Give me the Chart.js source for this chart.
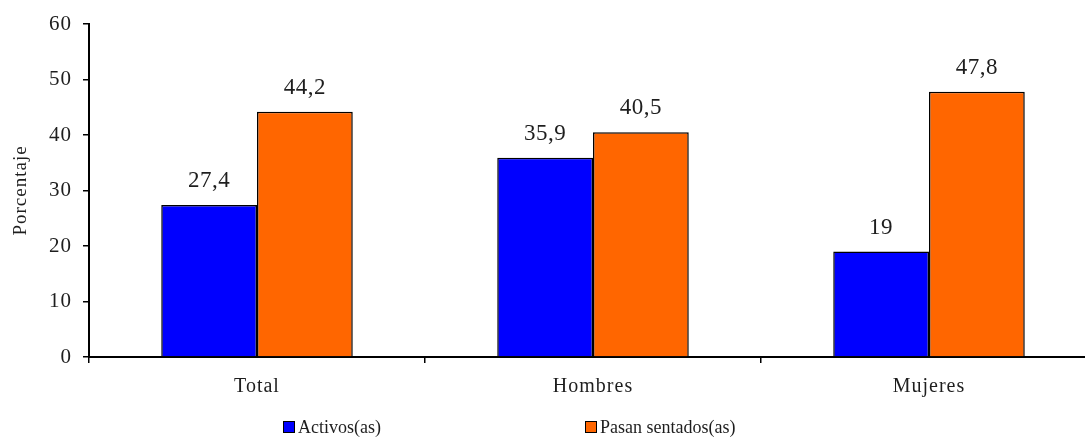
<!DOCTYPE html>
<html>
<head>
<meta charset="utf-8">
<script src="https://cdn.jsdelivr.net/npm/chart.js@4/dist/chart.umd.min.js"></script>
<style>
  html, body { margin: 0; padding: 0; background: #fff; overflow: hidden; }
  #wrap { width: 1100px; height: 437px; }
</style>
</head>
<body>
<div id="wrap"><canvas id="c" width="1100" height="437"></canvas></div>
<script>
// Categories and series values (percent)
const categories = ['Total', 'Hombres', 'Mujeres'];
const activos = [27.4, 35.9, 19];
const sentados = [44.2, 40.5, 47.8];
const seriesNames = ['Activos(as)', 'Pasan sentados(as)'];
const yTicks = [0, 10, 20, 30, 40, 50, 60];

const SERIF = '"Liberation Serif", "Times New Roman", serif';
const TEXT = '#1e1e1e';

const fmt = v => String(v).replace('.', ',');

// Slightly tracked-out lettering for the axis text
const tracking = {
  id: 'tracking',
  beforeDraw(chart) { chart.ctx.letterSpacing = '1px'; }
};

// Value labels above every bar
const valueLabels = {
  id: 'valueLabels',
  afterDatasetsDraw(chart) {
    const ctx = chart.ctx;
    ctx.save();
    ctx.letterSpacing = '0.5px';
    ctx.font = '23px ' + SERIF;
    ctx.fillStyle = TEXT;
    ctx.textAlign = 'center';
    ctx.textBaseline = 'alphabetic';
    chart.data.datasets.forEach((ds, i) => {
      chart.getDatasetMeta(i).data.forEach((bar, j) => {
        ctx.fillText(fmt(ds.data[j]), bar.x, bar.y - 18);
      });
    });
    ctx.restore();
  }
};

// Bottom legend with widely spaced entries
const spacedLegend = {
  id: 'spacedLegend',
  afterDraw(chart, args, opts) {
    const ctx = chart.ctx;
    ctx.save();
    ctx.letterSpacing = '0px';
    ctx.font = '18px ' + SERIF;
    ctx.textBaseline = 'alphabetic';
    chart.data.datasets.forEach((ds, i) => {
      const x = opts.xs[i], y = opts.y;
      ctx.fillStyle = ds.backgroundColor;
      ctx.fillRect(x, y - 12, 12, 12);
      ctx.strokeStyle = '#000';
      ctx.lineWidth = 1;
      ctx.strokeRect(x + 0.5, y - 11.5, 11, 11);
      ctx.fillStyle = TEXT;
      ctx.fillText(ds.label, x + 15, y);
    });
    ctx.restore();
  }
};

new Chart(document.getElementById('c'), {
  type: 'bar',
  data: {
    labels: categories,
    datasets: [
      { label: seriesNames[0], data: activos, backgroundColor: '#0000ff',
        borderColor: '#000', borderWidth: 1.5 },
      { label: seriesNames[1], data: sentados, backgroundColor: '#ff6600',
        borderColor: '#000', borderWidth: 1.5 }
    ]
  },
  options: {
    responsive: false,
    animation: false,
    layout: { padding: { left: 0, top: 24, right: 3, bottom: 0 } },
    datasets: { bar: { barPercentage: 1, categoryPercentage: 0.57 } },
    plugins: {
      legend: { display: false },
      tooltip: { enabled: false },
      spacedLegend: { xs: [283, 585], y: 433 }
    },
    scales: {
      x: {
        afterFit: s => { s.height = 80; },
        grid: { display: true, drawOnChartArea: false, offset: true,
                tickLength: 6, color: '#000', lineWidth: 1.5 },
        border: { display: true, color: '#000', width: 2 },
        ticks: { color: TEXT, font: { family: SERIF, size: 20 }, padding: 12 }
      },
      y: {
        min: 0, max: 60,
        afterFit: s => { s.width = 89; },
        afterBuildTicks: s => { s.ticks = yTicks.map(v => ({ value: v })); },
        grid: { display: true, drawOnChartArea: false,
                tickLength: 6, color: '#000', lineWidth: 1.5 },
        border: { display: true, color: '#000', width: 2 },
        ticks: { color: TEXT, font: { family: SERIF, size: 21 }, padding: 11 },
        title: { display: true, text: 'Porcentaje', color: TEXT,
                 font: { family: SERIF, size: 19 }, padding: { top: 10, bottom: 0 } }
      }
    }
  },
  plugins: [tracking, valueLabels, spacedLegend]
});
</script>
</body>
</html>
